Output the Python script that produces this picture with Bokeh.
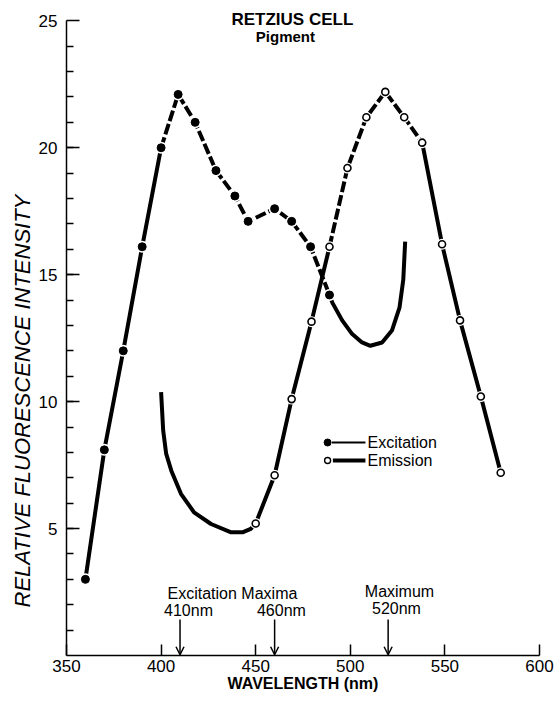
import math
from bokeh.plotting import figure
from bokeh.models import Range1d, FixedTicker, Label, Arrow, OpenHead, Title
from bokeh.embed import file_html
from bokeh.resources import INLINE
from bokeh.core.properties import value

# ---- data ----
exc_x = [360, 370, 380, 390, 400, 409, 418, 429, 439, 446, 460, 469, 479, 489]
exc_y = [3.0, 8.1, 12.0, 16.1, 20.0, 22.1, 21.0, 19.1, 18.1, 17.1, 17.6, 17.1, 16.1, 14.2]
exc_tail_x = [489, 490.5, 495.7, 501, 506.2, 510.6, 516.8, 522, 526, 528, 529]
exc_tail_y = [14.2, 13.9, 13.2, 12.66, 12.33, 12.2, 12.33, 12.8, 13.7, 14.8, 16.3]

em_x = [450, 460, 469, 479.5, 489, 498.5, 508.5, 518.5, 528.5, 538, 548.5, 558, 569, 579.5]
em_y = [5.2, 7.1, 10.1, 13.15, 16.1, 19.2, 21.2, 22.2, 21.2, 20.2, 16.2, 13.2, 10.2, 7.2]
em_tail_x = [400, 401.1, 402.7, 405.4, 410.5, 417.4, 426.4, 437, 443, 447.4, 450]
em_tail_y = [10.37, 8.86, 7.94, 7.28, 6.37, 5.64, 5.18, 4.85, 4.85, 4.99, 5.2]

x_ticks = [350, 400, 450, 500, 550, 600]
y_ticks = [5, 10, 15, 20, 25]
y_minor = list(range(1, 25))

maxima_x = [410, 460, 520]
maxima_labels = ["410nm", "460nm", "520nm"]

FONT = "Liberation Sans"
INK = "black"

p = figure(width=555, height=704, x_range=Range1d(350, 600), y_range=Range1d(0, 25.8),
           output_backend="svg", toolbar_location=None,
           min_border_left=66, min_border_right=16, min_border_top=0, min_border_bottom=49)
p.outline_line_color = None
p.xgrid.visible = False
p.ygrid.visible = False
p.background_fill_color = "white"
p.border_fill_color = "white"

# axes
p.xaxis.ticker = FixedTicker(ticks=x_ticks)
p.xaxis.bounds = (350, 600)
p.xaxis.major_tick_in = 11
p.xaxis.major_tick_out = 0
p.xaxis.minor_tick_line_color = None
p.xaxis.axis_line_width = 1.5
p.xaxis.major_tick_line_width = 1.5
p.xaxis.major_label_text_font = FONT
p.xaxis.major_label_text_font_size = "17px"
p.xaxis.major_label_text_color = INK
p.xaxis.major_label_standoff = 4
p.xaxis.axis_label = "WAVELENGTH (nm)"
p.xaxis.axis_label_text_font = FONT
p.xaxis.axis_label_text_font_style = "bold"
p.xaxis.axis_label_text_font_size = "16px"
p.xaxis.axis_label_text_color = INK
p.xaxis.axis_label_standoff = 0

p.yaxis.ticker = FixedTicker(ticks=y_ticks, minor_ticks=y_minor)
p.yaxis.bounds = (0, 25)
p.yaxis.major_tick_in = 13
p.yaxis.major_tick_out = 0
p.yaxis.minor_tick_in = 7
p.yaxis.minor_tick_out = 0
p.yaxis.axis_line_width = 1.5
p.yaxis.major_tick_line_width = 1.5
p.yaxis.minor_tick_line_width = 1.5
p.yaxis.major_label_text_font = FONT
p.yaxis.major_label_text_font_size = "17px"
p.yaxis.major_label_text_color = INK
p.yaxis.major_label_standoff = 9

# y axis title, placed like the reference (starts near the bottom of the axis)
ytitle = Title(text="RELATIVE FLUORESCENCE INTENSITY", align="left", offset=48,
               text_font=FONT, text_font_style="italic", text_font_size="22px",
               text_color=INK, vertical_align="middle", standoff=0)
p.add_layout(ytitle, "left")

# title
p.add_layout(Label(x=469.4, y=25.06, text="RETZIUS CELL", text_align="center", text_baseline="middle",
                   text_font=FONT, text_font_style="bold", text_font_size="17px", text_color=INK))
p.add_layout(Label(x=465.7, y=24.4, text="Pigment", text_align="center", text_baseline="middle",
                   text_font=FONT, text_font_style="bold", text_font_size="15px", text_color=INK))

LW = 4
# excitation
p.line(exc_x[:5], exc_y[:5], line_width=LW, line_color=INK)
p.line(exc_x[4:], exc_y[4:], line_width=LW, line_color=INK, line_dash="11 3")
p.line(exc_tail_x, exc_tail_y, line_width=LW, line_color=INK)
# emission
p.line(em_tail_x, em_tail_y, line_width=LW, line_color=INK)
p.line(em_x[:5], em_y[:5], line_width=LW, line_color=INK)
p.line(em_x[4:10], em_y[4:10], line_width=LW, line_color=INK, line_dash="11 3")
p.line(em_x[9:], em_y[9:], line_width=LW, line_color=INK)

# gaps around markers
p.scatter(exc_x, exc_y, size=12, fill_color="white", line_color=None)
p.scatter(em_x, em_y, size=11, fill_color="white", line_color=None)
p.scatter(exc_x, exc_y, size=8, fill_color=INK, line_color=INK)
p.scatter(em_x, em_y, size=7, fill_color="white", line_color=INK, line_width=1.6)

# legend (drawn by hand: marker, then line, then text)
p.scatter([488], [8.39], size=7, fill_color=INK, line_color=INK)
p.line([490.3, 508], [8.39, 8.39], line_width=2.2, line_color=INK)
p.scatter([488], [7.68], size=6, fill_color="white", line_color=INK, line_width=1.4)
p.line([490.8, 508], [7.68, 7.68], line_width=4, line_color=INK)
p.add_layout(Label(x=509.1, y=8.39, text="Excitation", text_align="left", text_baseline="middle",
                   text_font=FONT, text_font_size="16px", text_color=INK))
p.add_layout(Label(x=509.1, y=7.68, text="Emission", text_align="left", text_baseline="middle",
                   text_font=FONT, text_font_size="16px", text_color=INK))

# maxima arrows and notes
for mx in maxima_x:
    p.add_layout(Arrow(x_start=mx, y_start=1.42, x_end=mx, y_end=0.03, line_width=1.5, line_color=INK,
                       end=OpenHead(size=8, line_width=1.5, line_color=INK)))
p.add_layout(Label(x=403.4, y=2.44, text="Excitation Maxima", text_align="left", text_baseline="middle",
                   text_font=FONT, text_font_size="16px", text_color=INK))
p.add_layout(Label(x=414.5, y=1.77, text=maxima_labels[0], text_align="center", text_baseline="middle",
                   text_font=FONT, text_font_size="16px", text_color=INK))
p.add_layout(Label(x=463.6, y=1.77, text=maxima_labels[1], text_align="center", text_baseline="middle",
                   text_font=FONT, text_font_size="16px", text_color=INK))
p.add_layout(Label(x=526.0, y=2.52, text="Maximum", text_align="center", text_baseline="middle",
                   text_font=FONT, text_font_size="16px", text_color=INK))
p.add_layout(Label(x=524.4, y=1.85, text=maxima_labels[2], text_align="center", text_baseline="middle",
                   text_font=FONT, text_font_size="16px", text_color=INK))

open("out.html", "w").write(file_html(p, INLINE))
